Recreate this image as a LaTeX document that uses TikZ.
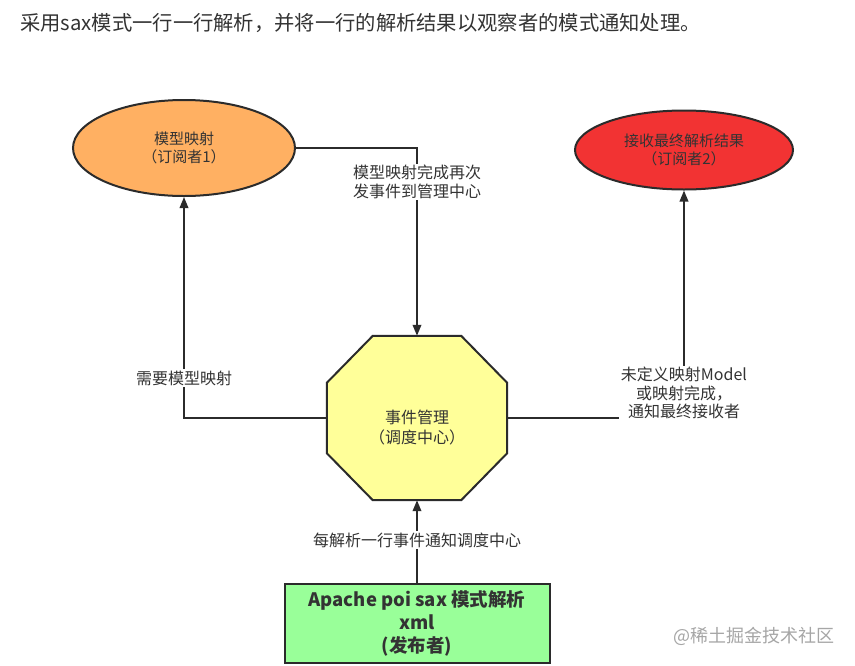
\documentclass[tikz,border=0pt]{standalone}
\usepackage{fontspec}
\setmainfont{Noto Sans CJK SC}
\usetikzlibrary{arrows.meta,shapes.geometric,calc}
\definecolor{txt}{HTML}{333333}
\definecolor{edge}{HTML}{2B2B2B}
\definecolor{orangefill}{HTML}{FFB062}
\definecolor{redfill}{HTML}{F23333}
\definecolor{yellowfill}{HTML}{FFFF99}
\definecolor{greenfill}{HTML}{99FF99}
\begin{document}
\begin{tikzpicture}[x=1pt,y=-1pt,
  ell/.style={ellipse,draw=edge,line width=2pt,inner sep=0pt,text=txt,
    font=\fontsize{15}{18.5}\selectfont,align=center},
  conn/.style={draw=edge,line width=2pt,-{Triangle[length=11pt,width=8.5pt]}},
  lbl/.style={fill=white,text=txt,font=\fontsize{16}{18.5}\selectfont,align=center,inner sep=1.5pt},
  pubbox/.style={rectangle,draw=edge,line width=2pt,fill=greenfill,
    minimum width=265pt,minimum height=79pt,text=txt,align=center,
    font=\fontsize{18.5}{23}\selectfont\bfseries}
]
\useasboundingbox (0,0) rectangle (855,665);
\fill[white] (0,0) rectangle (855,665);

\node[anchor=west,text=txt,font=\fontsize{20.3}{22}\selectfont,inner sep=0pt] (title) at (20,23)
  {采用sax模式一行一行解析，并将一行的解析结果以观察者的模式通知处理。};

\node[ell,fill=orangefill,minimum width=222pt,minimum height=96pt] (sub1) at (184,148)
  {模型映射\\（订阅者1）};
\node[ell,fill=redfill,minimum width=218pt,minimum height=79pt] (sub2) at (684,150)
  {接收最终解析结果\\（订阅者2）};

% octagon (event manager)
\node[rectangle,minimum width=180pt,minimum height=164pt,inner sep=0pt] (oct) at (417,418) {};
\filldraw[draw=edge,fill=yellowfill,line width=2pt,line join=miter]
  ($(oct.north west)+(46,0)$) -- ($(oct.north east)+(-46,0)$) --
  ($(oct.north east)+(0,47)$) -- ($(oct.south east)+(0,-47)$) --
  ($(oct.south east)+(-46,0)$) -- ($(oct.south west)+(46,0)$) --
  ($(oct.south west)+(0,-47)$) -- ($(oct.north west)+(0,47)$) -- cycle;
\node[text=txt,font=\fontsize{16}{20}\selectfont,align=center] (octtext) at (417,428)
  {事件管理\\（调度中心）};

\node[pubbox] (pub) at (417,623.5)
  {Apache poi sax 模式解析\\xml\\(发布者)};

\draw[conn] (sub1.east) -| (oct.north)
  node[lbl,pos=0.59] (l1) {模型映射完成再次\\发事件到管理中心};
\draw[conn] (oct.west) -| (sub1.south)
  node[lbl,pos=0.59] (l2) {需要模型映射};
\draw[conn] (oct.east) -| (sub2.south)
  node[lbl,pos=0.555] (l3) {未定义映射Model\\或映射完成，\\通知最终接收者};
\draw[conn] (pub.north) -- (oct.south)
  node[lbl,pos=0.52] (l4) {每解析一行事件通知调度中心};

\node[anchor=east,text=black!35,font=\fontsize{18}{20}\selectfont,inner sep=0pt] (wm) at (835,636)
  {@稀土掘金技术社区};
\end{tikzpicture}
\end{document}
